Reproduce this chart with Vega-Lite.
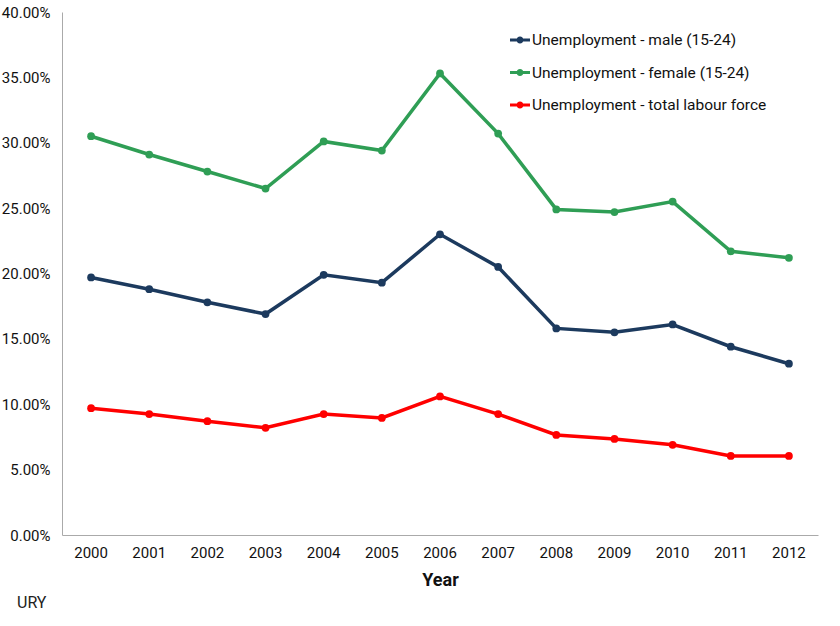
{
  "$schema": "https://vega.github.io/schema/vega-lite/v6.json",
  "width": 756,
  "height": 523,
  "autosize": "none",
  "padding": {"left": 62, "top": 12, "right": 22, "bottom": 91},
  "background": "#ffffff",
  "title": {"text": "URY", "orient": "bottom", "anchor": "start", "frame": "group", "dx": -45, "offset": 6, "fontSize": 16, "font": "Roboto", "fontWeight": "normal", "color": "#222222"},
  "config": {
    "view": {"stroke": null},
    "font": "Roboto"
  },
  "data": {
    "values": [
      {"year": "2000", "series": "Unemployment - male (15-24)", "value": 0.197},
      {"year": "2001", "series": "Unemployment - male (15-24)", "value": 0.188},
      {"year": "2002", "series": "Unemployment - male (15-24)", "value": 0.178},
      {"year": "2003", "series": "Unemployment - male (15-24)", "value": 0.169},
      {"year": "2004", "series": "Unemployment - male (15-24)", "value": 0.199},
      {"year": "2005", "series": "Unemployment - male (15-24)", "value": 0.193},
      {"year": "2006", "series": "Unemployment - male (15-24)", "value": 0.230},
      {"year": "2007", "series": "Unemployment - male (15-24)", "value": 0.205},
      {"year": "2008", "series": "Unemployment - male (15-24)", "value": 0.158},
      {"year": "2009", "series": "Unemployment - male (15-24)", "value": 0.155},
      {"year": "2010", "series": "Unemployment - male (15-24)", "value": 0.161},
      {"year": "2011", "series": "Unemployment - male (15-24)", "value": 0.144},
      {"year": "2012", "series": "Unemployment - male (15-24)", "value": 0.131},
      {"year": "2000", "series": "Unemployment - female (15-24)", "value": 0.305},
      {"year": "2001", "series": "Unemployment - female (15-24)", "value": 0.291},
      {"year": "2002", "series": "Unemployment - female (15-24)", "value": 0.278},
      {"year": "2003", "series": "Unemployment - female (15-24)", "value": 0.265},
      {"year": "2004", "series": "Unemployment - female (15-24)", "value": 0.301},
      {"year": "2005", "series": "Unemployment - female (15-24)", "value": 0.294},
      {"year": "2006", "series": "Unemployment - female (15-24)", "value": 0.353},
      {"year": "2007", "series": "Unemployment - female (15-24)", "value": 0.307},
      {"year": "2008", "series": "Unemployment - female (15-24)", "value": 0.249},
      {"year": "2009", "series": "Unemployment - female (15-24)", "value": 0.247},
      {"year": "2010", "series": "Unemployment - female (15-24)", "value": 0.255},
      {"year": "2011", "series": "Unemployment - female (15-24)", "value": 0.217},
      {"year": "2012", "series": "Unemployment - female (15-24)", "value": 0.212},
      {"year": "2000", "series": "Unemployment - total labour force", "value": 0.097},
      {"year": "2001", "series": "Unemployment - total labour force", "value": 0.0925},
      {"year": "2002", "series": "Unemployment - total labour force", "value": 0.087},
      {"year": "2003", "series": "Unemployment - total labour force", "value": 0.082},
      {"year": "2004", "series": "Unemployment - total labour force", "value": 0.0925},
      {"year": "2005", "series": "Unemployment - total labour force", "value": 0.0895},
      {"year": "2006", "series": "Unemployment - total labour force", "value": 0.106},
      {"year": "2007", "series": "Unemployment - total labour force", "value": 0.0925},
      {"year": "2008", "series": "Unemployment - total labour force", "value": 0.0765},
      {"year": "2009", "series": "Unemployment - total labour force", "value": 0.0735},
      {"year": "2010", "series": "Unemployment - total labour force", "value": 0.069},
      {"year": "2011", "series": "Unemployment - total labour force", "value": 0.0605},
      {"year": "2012", "series": "Unemployment - total labour force", "value": 0.0605}
    ]
  },
  "encoding": {
    "x": {
      "field": "year", "type": "ordinal",
      "scale": {"type": "band", "paddingInner": 0, "paddingOuter": 0},
      "axis": {"title": "Year", "labelAngle": 0, "ticks": false, "labelPadding": 10, "labelFontSize": 15, "labelColor": "#111111", "titleFontSize": 18, "titleFontWeight": "bold", "titleColor": "#111111", "titlePadding": 11, "domainColor": "#aaaaaa", "grid": false}
    },
    "y": {
      "field": "value", "type": "quantitative",
      "scale": {"domain": [0, 0.4], "nice": false},
      "axis": {"title": null, "format": ".2%", "values": [0, 0.05, 0.1, 0.15, 0.2, 0.25, 0.3, 0.35, 0.4], "ticks": false, "labelPadding": 12, "labelFontSize": 15, "labelColor": "#111111", "domainColor": "#aaaaaa", "grid": false}
    },
    "color": {
      "field": "series", "type": "nominal",
      "scale": {
        "domain": ["Unemployment - male (15-24)", "Unemployment - female (15-24)", "Unemployment - total labour force"],
        "range": ["#1c3a5e", "#2f9e55", "#ff0000"]
      },
      "legend": {
        "title": null, "orient": "none", "legendX": 448, "legendY": 18,
        "symbolType": "M-1,-0.15L1,-0.15L1,0.15L-1,0.15Z M-0.35,0A0.35,0.35 0 1,1 0.35,0A0.35,0.35 0 1,1 -0.35,0Z",
        "symbolSize": 400, "symbolStrokeWidth": 0, "symbolOpacity": 1,
        "labelFontSize": 15.5, "labelColor": "#111111", "labelOffset": 2, "labelLimit": 400,
        "rowPadding": 13.5
      }
    }
  },
  "layer": [
    {"mark": {"type": "line", "strokeWidth": 3.5}},
    {"mark": {"type": "circle", "size": 60, "opacity": 1}}
  ]
}
